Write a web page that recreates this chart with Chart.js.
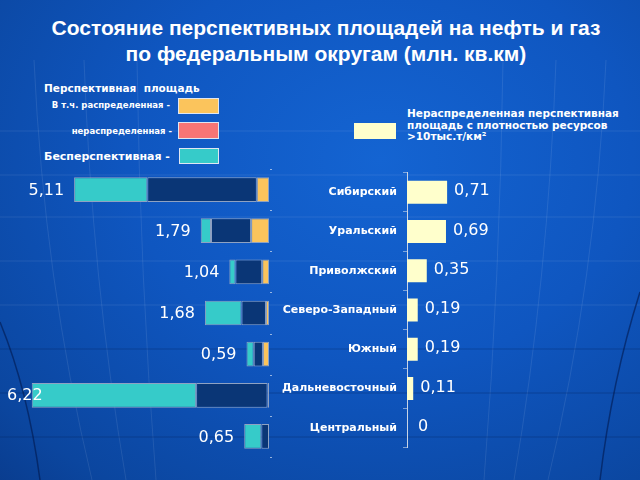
<!DOCTYPE html>
<html><head><meta charset="utf-8">
<script src="https://cdn.jsdelivr.net/npm/chart.js@4/dist/chart.umd.min.js"></script>
<style>
html,body{margin:0;padding:0;}
body{width:640px;height:480px;overflow:hidden;position:relative;
 background: radial-gradient(ellipse 560px 460px at 380px 160px, #1464d2 0%, #0f56c0 45%, #0b469f 85%, #093b8c 100%);
 font-family:"DejaVu Sans",sans-serif;color:#fff;}
.abs{position:absolute;white-space:nowrap;}
#title{left:0;top:15px;width:652px;text-align:center;font:bold 21px "Liberation Sans",Arial,sans-serif;line-height:26px;}
.lg{font-weight:bold;}
.box{position:absolute;box-sizing:border-box;}
canvas{position:absolute;}
#bg{position:absolute;left:0;top:0;}
</style></head>
<body>
<svg id="bg" width="640" height="480" viewBox="0 0 640 480">
  <g stroke="rgba(255,255,255,0.09)" stroke-width="1" fill="none">
    <line x1="0" y1="131" x2="640" y2="131"/>
    <line x1="0" y1="175" x2="640" y2="175"/>
    <line x1="0" y1="217" x2="640" y2="217"/>
    <line x1="0" y1="261" x2="640" y2="261"/>
    <line x1="0" y1="305" x2="640" y2="305"/>
    <path d="M503 60 Q500 280 484 480"/>
    <path d="M556 60 Q548 280 514 480"/>
    <path d="M606 60 Q596 280 548 480"/>
    <path d="M137 60 Q140 280 156 480"/>
    <path d="M84 60 Q92 280 126 480"/>
    <path d="M34 60 Q44 280 92 480"/>
  </g>
  <g stroke="rgba(0,25,80,0.30)" stroke-width="1" fill="none">
    <line x1="0" y1="349" x2="640" y2="349"/>
    <line x1="0" y1="393" x2="640" y2="393"/>
    <line x1="0" y1="437" x2="640" y2="437"/>
  </g>
  <g stroke="rgba(0,20,70,0.55)" stroke-width="1.5" fill="none">
    <path d="M640 292 Q612 380 600 480"/>
    <path d="M0 322 Q28 390 40 480"/>
  </g>
</svg>
<div id="title" class="abs">Состояние перспективных площадей на нефть и газ<br>по федеральным округам (млн. кв.км)</div>

<div class="abs lg" style="left:44px;top:81px;font-size:10.5px;line-height:14px;">Перспективная&nbsp; площадь</div>
<div class="abs lg" style="right:470px;top:99px;font-size:8.5px;line-height:12px;">В т.ч. распределенная -</div>
<div class="box" style="left:178px;top:98px;width:41px;height:16px;background:#fbc45c;border:1px solid #dfe6f2;"></div>
<div class="abs lg" style="right:468px;top:125px;font-size:8.5px;line-height:12px;">нераспределенная -</div>
<div class="box" style="left:178px;top:122px;width:41px;height:17px;background:#f87575;border:1px solid #dfe6f2;"></div>
<div class="abs lg" style="left:44px;top:150px;font-size:11px;line-height:14px;">Бесперспективная -</div>
<div class="box" style="left:179px;top:148px;width:40px;height:16px;background:#36cbc9;border:1px solid #dfe6f2;"></div>

<div class="box" style="left:354px;top:123px;width:42px;height:16px;background:#ffffcc;"></div>
<div class="abs lg" style="left:407px;top:108px;font-size:10.5px;line-height:11.5px;">Нераспределенная перспективная<br>площадь с плотностью ресурсов<br>&gt;10тыс.т/км²</div>

<canvas id="left" width="280" height="305" style="left:0;top:160px;"></canvas>
<canvas id="right" width="370" height="300" style="left:270px;top:160px;"></canvas>

<script>
const districts = ['Сибирский','Уральский','Приволжский','Северо-Западный','Южный','Дальневосточный','Центральный'];
const totalArea = [5.11, 1.79, 1.04, 1.68, 0.59, 6.22, 0.65];
const distributed = [0.32, 0.47, 0.18, 0.08, 0.16, 0.04, 0];
const undistributed = [2.87, 1.05, 0.70, 0.64, 0.24, 1.87, 0.20];
const nonProspective = [1.92, 0.27, 0.16, 0.96, 0.19, 4.31, 0.45];
const denseUndistributed = [0.71, 0.69, 0.35, 0.19, 0.19, 0.11, 0];

const fmt = v => v === 0 ? '0' : v.toFixed(2).replace('.', ',');
const LABEL_FONT = '16px "DejaVu Sans"';

const leftLabels = {
  id: 'leftLabels',
  afterDatasetsDraw(chart) {
    const ctx = chart.ctx;
    const meta = chart.getDatasetMeta(2);
    ctx.save();
    ctx.font = LABEL_FONT;
    ctx.fillStyle = '#ffffff';
    ctx.textAlign = 'left';
    ctx.textBaseline = 'middle';
    meta.data.forEach((bar, i) => {
      const txt = fmt(totalArea[i]);
      const w = ctx.measureText(txt).width;
      let right = bar.x - 10;
      if (right - w < 7) right = 7 + w;
      ctx.fillText(txt, right - w, bar.y + 1);
    });
    const ys = chart.scales.y;
    const n = districts.length;
    ctx.strokeStyle = 'rgba(210,222,240,0.7)';
    ctx.lineWidth = 1;
    for (let k = 0; k <= n; k++) {
      const y = Math.round(ys.top + k * ys.height / n) + 0.5;
      ctx.beginPath(); ctx.moveTo(chart.chartArea.right + 1, y); ctx.lineTo(chart.chartArea.right + 3, y); ctx.stroke();
    }
    ctx.restore();
  }
};

const rightLabels = {
  id: 'rightLabels',
  afterDatasetsDraw(chart) {
    const ctx = chart.ctx;
    const meta = chart.getDatasetMeta(0);
    ctx.save();
    ctx.font = LABEL_FONT;
    ctx.fillStyle = '#ffffff';
    ctx.textAlign = 'left';
    ctx.textBaseline = 'middle';
    meta.data.forEach((bar, i) => {
      const v = denseUndistributed[i];
      ctx.fillText(fmt(v), bar.x + (v === 0 ? 11 : 7), bar.y - 1);
    });
    ctx.restore();
  }
};

const segBorder = '#8fa2c2';
new Chart(document.getElementById('left'), {
  type: 'bar',
  data: {
    labels: districts,
    datasets: [
      { label: 'В т.ч. распределенная', data: distributed, backgroundColor: '#fbc45c', borderColor: segBorder, borderWidth: 1, borderSkipped: false },
      { label: 'нераспределенная', data: undistributed, backgroundColor: '#0a3676', borderColor: segBorder, borderWidth: 1, borderSkipped: false },
      { label: 'Бесперспективная', data: nonProspective, backgroundColor: '#36cbc9', borderColor: segBorder, borderWidth: 1, borderSkipped: false }
    ]
  },
  options: {
    indexAxis: 'y', responsive: false, animation: false, devicePixelRatio: 1,
    layout: { padding: { left: 2, right: 11, top: 9, bottom: 8 } },
    plugins: { legend: { display: false }, tooltip: { enabled: false } },
    datasets: { bar: { barPercentage: 0.6, categoryPercentage: 1 } },
    scales: {
      x: { stacked: true, reverse: true, min: 0, max: 7, display: false },
      y: { stacked: true, display: false }
    }
  },
  plugins: [leftLabels]
});

new Chart(document.getElementById('right'), {
  type: 'bar',
  data: {
    labels: districts,
    datasets: [
      { label: 'Нераспределенная перспективная площадь с плотностью ресурсов >10тыс.т/км²', data: denseUndistributed, backgroundColor: '#ffffcc', barPercentage: 0.59, categoryPercentage: 1 }
    ]
  },
  options: {
    indexAxis: 'y', responsive: false, animation: false, devicePixelRatio: 1,
    layout: { padding: { left: 0, right: 120, top: 4, bottom: 11 } },
    plugins: { legend: { display: false }, tooltip: { enabled: false } },
    scales: {
      x: { min: 0, max: 2, display: false },
      y: {
        position: 'left',
        afterFit(s) { s.width = 137; },
        grid: { drawOnChartArea: false, drawTicks: true, tickLength: 4, color: 'rgba(200,215,235,0.6)' },
        border: { display: true, color: '#c8d4e6', width: 1 },
        ticks: { color: '#ffffff', padding: 6, font: { family: 'DejaVu Sans', weight: 'bold', size: 11 } }
      }
    }
  },
  plugins: [rightLabels]
});
</script>
</body></html>
